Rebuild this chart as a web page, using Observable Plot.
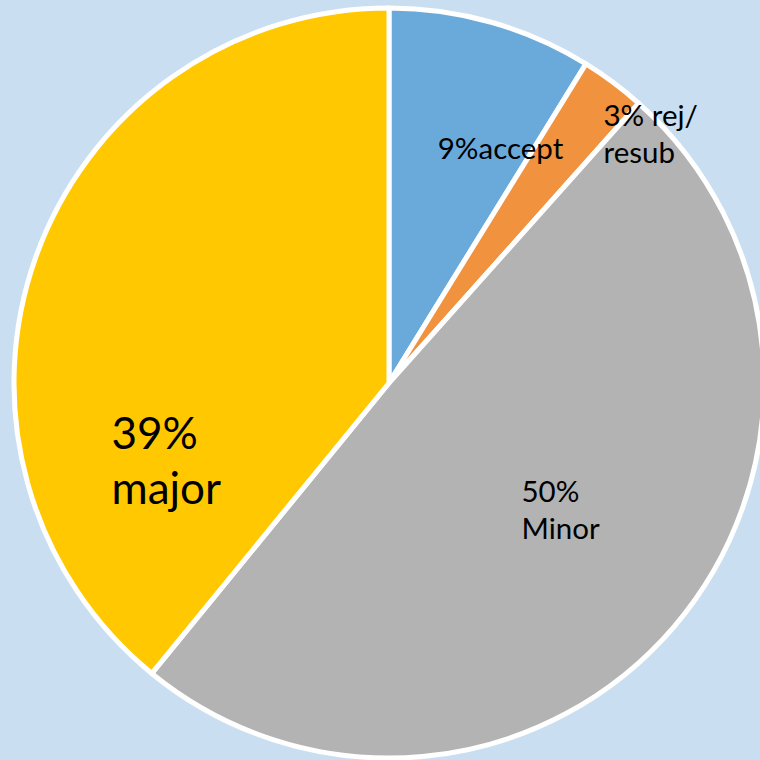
<!DOCTYPE html>
<html><head><meta charset="utf-8">
<script src="https://cdn.jsdelivr.net/npm/d3@7"></script>
<script src="https://cdn.jsdelivr.net/npm/@observablehq/plot@0.6"></script>
<style>html,body{margin:0;padding:0;background:#c9dff1;overflow:hidden;}</style>
</head><body><div id="chart"></div>
<script>
// Data
const categories = ["accept", "rej/resub", "Minor", "major"];
const values = [8.8, 2.8, 49.3, 39.1];
const labels = ["9%accept", "3% rej/\nresub", "50%\nMinor", "39%\nmajor"];
const colors = ["#6aaadb", "#f0923e", "#b3b3b3", "#ffc800"];

// Layout (pixel-space coordinates of the chart frame)
const W = 760, H = 760;
const pie = {cx: 389, cy: 383, r: 375};
const labelLayout = [
  {x: 500, y: 158, anchor: "middle", size: 29.5},
  {x: 603, y: 162, anchor: "start", size: 29.5},
  {x: 521, y: 538, anchor: "start", size: 29.5},
  {x: 111, y: 503, anchor: "start", size: 44}
];

const table = categories.map((c, i) => ({category: c, value: values[i], label: labels[i], color: colors[i], ...labelLayout[i]}));
const arcs = d3.pie().sort(null).value(d => d.value)(table);

function pieMark(index, scales, vals, dimensions) {
  const cx = scales.x(pie.cx), cy = scales.y(pie.cy);
  const r = scales.x(pie.cx + pie.r) - scales.x(pie.cx);
  const arc = d3.arc().innerRadius(0).outerRadius(r);
  const g = d3.create("svg:g").attr("transform", `translate(${cx},${cy})`);
  g.selectAll("path").data(arcs).join("path")
    .attr("d", arc)
    .attr("fill", d => d.data.color)
    .attr("stroke", "white")
    .attr("stroke-width", 5)
    .attr("stroke-linejoin", "round");
  return g.node();
}

const textMarks = table.map(d => Plot.text([d], {
  x: "x", y: "y", text: "label",
  textAnchor: d.anchor, lineAnchor: "bottom",
  fontSize: d.size, lineHeight: 1.25, fill: "black"
}));

const chart = Plot.plot({
  width: W, height: H,
  margin: 0,
  style: {background: "#c9dff1", fontFamily: "Lato, 'Open Sans', sans-serif"},
  x: {domain: [0, W], range: [0, W], axis: null},
  y: {domain: [0, H], range: [0, H], axis: null},
  marks: [pieMark, ...textMarks]
});
document.getElementById("chart").append(chart);
</script>
</body></html>
